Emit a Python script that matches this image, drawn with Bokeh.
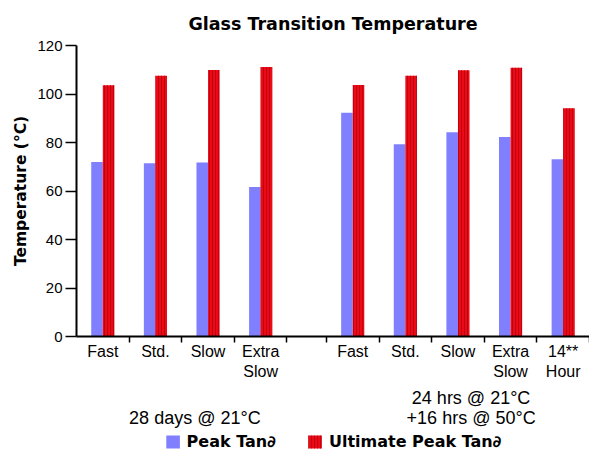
from bokeh.plotting import figure
from bokeh.models import (Range1d, FixedTicker, LinearAxis, Legend, LegendItem,
                          ColumnDataSource)
from bokeh.layouts import column
from bokeh.embed import file_html
from bokeh.resources import INLINE

# ---- data ----
categories = ["Fast", "Std.", "Slow", "Extra\nSlow",
              "Fast", "Std.", "Slow", "Extra\nSlow", "14**\nHour"]
groups = ["28 days @ 21°C"] * 4 + ["24 hrs @ 21°C\n+16 hrs @ 50°C"] * 5
peak_tan = [72.0, 71.4, 71.8, 61.6, 92.3, 79.3, 84.2, 82.3, 73.1]
ultimate_peak_tan = [103.6, 107.5, 109.9, 111.1, 103.7, 107.5, 109.8, 110.8, 94.1]
y_ticks = [0, 20, 40, 60, 80, 100, 120]
series_names = ["Peak Tan∂", "Ultimate Peak Tan∂"]

FONT = "Liberation Sans"
BOLD_FONT = "DejaVu Sans"
BLUE = "#8080FF"
RED = "#EC0A16"
STRIPE = "#B4000E"
GAP = 0.75
BAR_W = 0.22
W = 589

# slot layout (one slot per category, a gap between groups)
slot_left = []
pos = 0.0
prev = None
for g in groups:
    if prev is not None and g != prev:
        pos += GAP
    slot_left.append(pos)
    pos += 1.0
    prev = g
x_end = pos
centers = [l + 0.5 for l in slot_left]
bounds = sorted(set([l for l in slot_left if l > 0] + [l + 1.0 for l in slot_left]))

group_names = []
for g in groups:
    if g not in group_names:
        group_names.append(g)
group_pos = []
for g in group_names:
    idx = [i for i, gg in enumerate(groups) if gg == g]
    group_pos.append((slot_left[idx[0]] + slot_left[idx[-1]] + 1.0) / 2 + 0.25)

src = ColumnDataSource(dict(
    xb=[c - BAR_W / 2 for c in centers],
    xr=[c + BAR_W / 2 for c in centers],
    peak=peak_tan,
    ult=ultimate_peak_tan,
))

blue_style = dict(fill_color=BLUE, line_color=None)
red_style = dict(fill_color=RED, line_color=None, hatch_pattern="|",
                 hatch_color=STRIPE, hatch_alpha=0.8, hatch_scale=3, hatch_weight=1)

p = figure(width=W, height=430, x_range=Range1d(0, x_end), y_range=Range1d(0, 120),
           output_backend="svg", toolbar_location=None,
           title="Glass Transition Temperature",
           min_border_left=76, min_border_right=0, min_border_top=44, min_border_bottom=94)
p.xgrid.visible = False
p.ygrid.visible = False
p.outline_line_color = None

p.title.align = "center"
p.title.text_font = BOLD_FONT
p.title.text_font_size = "17.5px"
p.title.text_font_style = "bold"
p.title.text_color = "black"
p.title.standoff = 23

r1 = p.vbar(x="xb", top="peak", bottom=0, width=BAR_W, source=src, **blue_style)
r2 = p.vbar(x="xr", top="ult", bottom=0, width=BAR_W, source=src, **red_style)

# x axis (category names, separators as minor ticks)
xa = p.xaxis[0]
xa.ticker = FixedTicker(ticks=centers, minor_ticks=bounds)
xa.major_label_overrides = {c: lab for c, lab in zip(centers, categories)}
xa.major_tick_line_color = None
xa.major_tick_out = 0
xa.major_tick_in = 0
xa.minor_tick_out = 6
xa.minor_tick_in = 0
xa.minor_tick_line_color = "black"
xa.minor_tick_line_width = 1.5
xa.axis_line_color = "black"
xa.axis_line_width = 2
xa.major_label_standoff = 0
xa.major_label_text_font = FONT
xa.major_label_text_font_size = "16px"
xa.major_label_text_color = "black"

# group labels axis
ga = LinearAxis(ticker=FixedTicker(ticks=group_pos, minor_ticks=[]))
ga.major_label_overrides = {gp: ("\n" + g if "\n" not in g else g)
                            for gp, g in zip(group_pos, group_names)}
ga.axis_line_color = None
ga.major_tick_line_color = None
ga.major_tick_out = 0
ga.major_tick_in = 0
ga.minor_tick_line_color = None
ga.major_label_standoff = 5
ga.major_label_text_font = FONT
ga.major_label_text_font_size = "18px"
ga.major_label_text_color = "black"
ga.major_label_text_line_height = 1.0
p.add_layout(ga, "below")

# y axis
ya = p.yaxis[0]
ya.ticker = FixedTicker(ticks=y_ticks)
ya.axis_label = "Temperature (°C)"
ya.axis_label_text_font = BOLD_FONT
ya.axis_label_text_font_size = "15.5px"
ya.axis_label_text_font_style = "bold"
ya.axis_label_text_color = "black"
ya.axis_label_standoff = 4
ya.axis_line_color = "black"
ya.axis_line_width = 2
ya.major_tick_out = 11
ya.major_tick_in = 0
ya.major_tick_line_width = 1.5
ya.minor_tick_line_color = None
ya.major_label_standoff = 3
ya.major_label_text_font = FONT
ya.major_label_text_font_size = "15px"
ya.major_label_text_color = "black"

# legend strip (separate small figure below; its bar renderers are hidden)
pl = figure(width=W, height=22, x_range=p.x_range, y_range=p.y_range,
            output_backend="svg", toolbar_location=None,
            x_axis_location=None, y_axis_location=None,
            min_border_left=76, min_border_right=0, min_border_top=0, min_border_bottom=0)
pl.xgrid.visible = False
pl.ygrid.visible = False
pl.outline_line_color = None
l1 = pl.vbar(x="xb", top="peak", bottom=0, width=BAR_W, source=src, visible=False, **blue_style)
l2 = pl.vbar(x="xr", top="ult", bottom=0, width=BAR_W, source=src, visible=False, **red_style)

legend = Legend(items=[LegendItem(label=series_names[0], renderers=[l1]),
                       LegendItem(label=series_names[1], renderers=[l2])],
                orientation="horizontal", location="center", click_policy="none",
                label_text_font=BOLD_FONT, label_text_font_size="16px",
                label_text_font_style="bold", label_text_color="black",
                glyph_width=17, glyph_height=16, label_standoff=6, spacing=30,
                label_height=16, padding=0, margin=0, border_line_color=None,
                background_fill_alpha=0)
pl.add_layout(legend, "center")

layout = column(p, pl, spacing=0)
open("out.html", "w").write(file_html(layout, INLINE))
